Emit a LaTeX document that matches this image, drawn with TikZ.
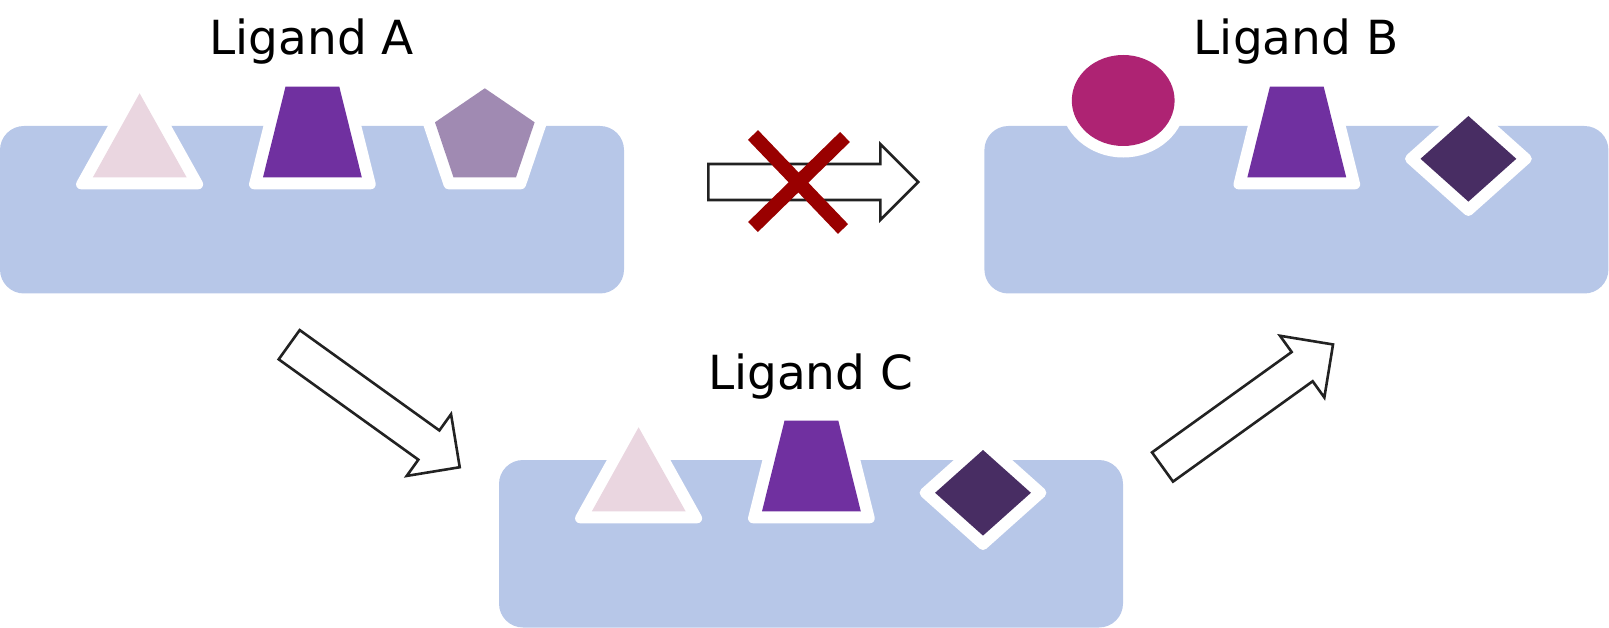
\documentclass[tikz,border=0pt]{standalone}
\usepackage{fontspec}
\setmainfont{DejaVu Sans}
\definecolor{boxblue}{RGB}{183,199,232}
\definecolor{tripink}{RGB}{234,214,224}
\definecolor{trapviolet}{RGB}{112,48,160}
\definecolor{pentlilac}{RGB}{160,138,178}
\definecolor{circmagenta}{RGB}{174,35,115}
\definecolor{diamplum}{RGB}{72,45,99}
\definecolor{crossred}{RGB}{153,0,0}
\definecolor{arrowgray}{RGB}{34,34,34}
\tikzset{
  ligbox/.style={fill=boxblue, rounded corners=24pt},
  halo/.style={draw=white, fill=white, line width=10pt, line join=round},
  blockarrow/.style={draw=arrowgray, line width=2.6pt, fill=white, line join=miter},
  ligtext/.style={font=\fontsize{47}{56}\selectfont, anchor=base, inner sep=0pt},
  crossline/.style={draw=crossred, line width=14pt}
}
\newcommand{\LgBox}[1]{\path[#1] (0,0) rectangle (624,167.5);}
% shapes
\newcommand{\LgTri}[1]{\path[#1] (139.6,-32.7) -- (186.6,51.3) -- (92.9,51.3) -- cycle;}
\newcommand{\LgTrap}[1]{\path[#1] (285.5,-39.3) -- (339.3,-39.3) -- (361.8,51.3) -- (263,51.3) -- cycle;}
\newcommand{\LgPent}[1]{\path[#1] (484.8,-37.7) -- (534.6,-3.7) -- (516,51.3) -- (453.5,51.3) -- (435,-3.7) -- cycle;}
\newcommand{\LgDiam}[1]{\path[#1] (484,-10) -- (531.9,32.8) -- (484,75.6) -- (436.1,32.8) -- cycle;}
\newcommand{\LgCirc}[1]{\path[#1] (138.8,-25.5) ellipse [x radius=51.4, y radius=45.5];}
% white halos (offset outlines)
\newcommand{\HaTri}{\path[halo] (139.6,-46.7) -- (198.16,58.3) -- (81.04,58.3) -- cycle;}
\newcommand{\HaTrap}{\path[halo] (280.03,-46.3) -- (344.77,-46.3) -- (370.75,58.3) -- (254.05,58.3) -- cycle;}
\newcommand{\HaPent}{\path[halo] (484.8,-46.18) -- (542.93,-6.49) -- (521.02,58.3) -- (448.48,58.3) -- (426.67,-6.49) -- cycle;}
\newcommand{\HaDiam}{\path[halo] (484,-19.39) -- (542.41,32.8) -- (484,84.99) -- (425.59,32.8) -- cycle;}
\newcommand{\LgArrow}[2]{\path[blockarrow, shift={#1}, rotate=#2] (0,-18) -- (172,-18) -- (172,-38) -- (210,0) -- (172,38) -- (172,18) -- (0,18) -- cycle;}
\begin{document}
\begin{tikzpicture}[x=1pt,y=-1pt]
\useasboundingbox (0,0) rectangle (1609,628);
% Ligand A
\begin{scope}[shift={(0,126)}]
  \LgBox{ligbox}
  \HaTri\LgTri{fill=tripink}
  \HaTrap\LgTrap{fill=trapviolet}
  \HaPent\LgPent{fill=pentlilac}
\end{scope}
% Ligand B
\begin{scope}[shift={(984.4,126)}]
  \LgBox{ligbox}
  \LgCirc{draw=white, fill=white, line width=23pt}\LgCirc{fill=circmagenta}
  \HaTrap\LgTrap{fill=trapviolet}
  \HaDiam\LgDiam{fill=diamplum}
\end{scope}
% Ligand C
\begin{scope}[shift={(499,460)}]
  \LgBox{ligbox}
  \HaTri\LgTri{fill=tripink}
  \HaTrap\LgTrap{fill=trapviolet}
  \HaDiam\LgDiam{fill=diamplum}
\end{scope}
% labels
\node[ligtext] (ligA) at (311.7,55) {Ligand A};
\node[ligtext] (ligB) at (1296.1,55) {Ligand B};
\node[ligtext] (ligC) at (810.7,389) {Ligand C};
% arrows
\LgArrow{(708.3,182)}{0}
\LgArrow{(289.2,344.7)}{-35.7}
\LgArrow{(1162.5,467)}{35.7}
% cross
\path[crossline] (753,135) -- (843,229);
\path[crossline] (845,137) -- (753,227);
\end{tikzpicture}
\end{document}
